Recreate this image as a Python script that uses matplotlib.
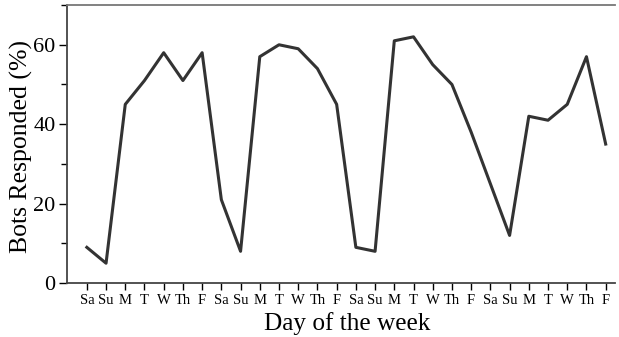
import matplotlib
matplotlib.use("Agg")
import matplotlib.pyplot as plt
from matplotlib.ticker import MultipleLocator

days = ["Sa", "Su", "M", "T", "W", "Th", "F"] * 4
responded = [9, 5, 45, 51, 58, 51, 58,
             21, 8, 57, 60, 59, 54, 45,
             9, 8, 61, 62, 55, 50, 38,
             25, 12, 42, 41, 45, 57, 35]

plt.rcParams['font.family'] = ['Liberation Serif', 'DejaVu Serif']

fig = plt.figure(figsize=(6.19, 3.37), dpi=100)
ax = fig.add_axes([0.108, 0.160, 0.886, 0.825])

x = list(range(len(responded)))
ax.plot(x, responded, color='#333333', linewidth=2.2)

ax.set_xlim(-1.04, 27.5)
ax.set_ylim(0, 70)
ax.set_xticks(x)
ax.set_xticklabels(days, fontsize=10.5)
ax.set_yticks([0, 20, 40, 60])
ax.yaxis.set_minor_locator(MultipleLocator(10))
ax.tick_params(axis='y', labelsize=16, length=6, width=1, pad=2)
ax.tick_params(axis='y', which='minor', length=4, width=1)
ax.tick_params(axis='x', length=5, width=1, pad=3)

ax.spines['right'].set_visible(False)
for s in ['left', 'bottom', 'top']:
    ax.spines[s].set_color('#444444')
    ax.spines[s].set_linewidth(1.3)
ax.spines['top'].set_color('#777777')

ax.set_xlabel("Day of the week", fontsize=18.2, labelpad=1)
ax.set_ylabel("Bots Responded (%)", fontsize=18.5)
# label positions in axes coords, nudged to where the original sits
ax.xaxis.set_label_coords(0.512, -0.105)
ax.yaxis.set_label_coords(-0.061, 0.49)

fig.savefig("out.png", dpi=100)
